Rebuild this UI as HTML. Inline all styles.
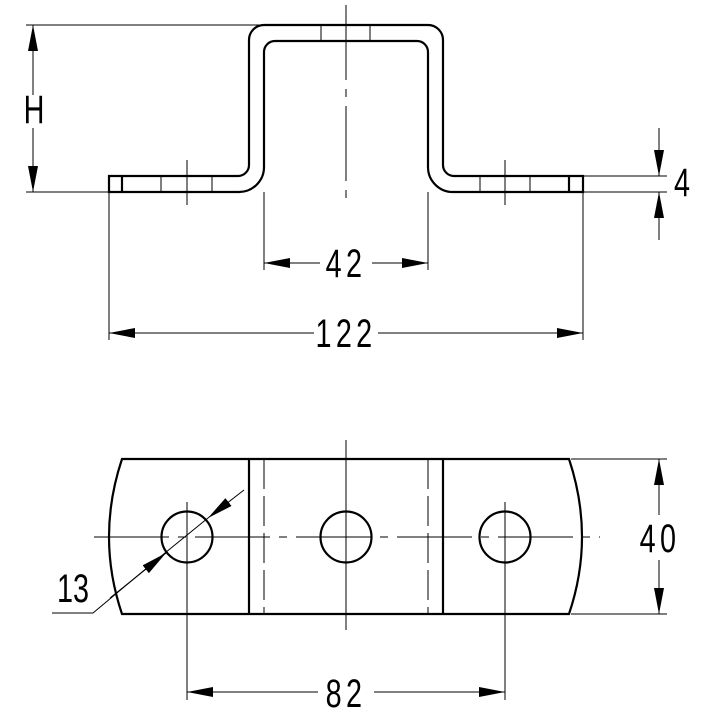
<!DOCTYPE html>
<html><head><meta charset="utf-8"><style>html,body{margin:0;padding:0;background:#fff}svg{display:block}</style></head>
<body>
<svg width="714" height="714" viewBox="0 0 714 714" xmlns="http://www.w3.org/2000/svg">
<defs>
<marker id="a" viewBox="0 0 26 10" refX="26" refY="5" markerWidth="26" markerHeight="10" markerUnits="userSpaceOnUse" orient="auto"><path d="M0,0L26,5L0,10z" fill="#000"/></marker>
</defs>
<g fill="none" stroke="#000">
<g stroke-width="2.2">
<path d="M109,176 H238 A11,11 0 0 0 249,165 V40 A15,15 0 0 1 264,25 H428 A15,15 0 0 1 443,40 V165 A11,11 0 0 0 454,176 H583 V192 H454 A25,25 0 0 1 428,167 V52 A11,11 0 0 0 417,41 H275 A11,11 0 0 0 264,52 V167 A25,25 0 0 1 238,192 H109 Z"/>
<line x1="122" y1="176" x2="122" y2="192"/>
<line x1="569" y1="176" x2="569" y2="192"/>
</g>
<g stroke-width="1">
<line x1="161" y1="176" x2="161" y2="192"/><line x1="212" y1="176" x2="212" y2="192"/>
<line x1="480" y1="176" x2="480" y2="192"/><line x1="530" y1="176" x2="530" y2="192"/>
<line x1="321" y1="25" x2="321" y2="41"/><line x1="370" y1="25" x2="370" y2="41"/>
<line x1="187" y1="160" x2="187" y2="205"/><line x1="505" y1="160" x2="505" y2="205"/>
<line x1="346" y1="5" x2="346" y2="205" stroke-dasharray="75,9,8,9"/>
<line x1="26" y1="25" x2="264" y2="25"/><line x1="26" y1="192" x2="109" y2="192"/>
<line x1="33" y1="95" x2="33" y2="25" marker-end="url(#a)"/><line x1="33" y1="128" x2="33" y2="192" marker-end="url(#a)"/>
<line x1="583" y1="176" x2="667" y2="176"/><line x1="583" y1="192" x2="667" y2="192"/>
<line x1="659" y1="128" x2="659" y2="176" marker-end="url(#a)"/><line x1="659" y1="240" x2="659" y2="192" marker-end="url(#a)"/>
<line x1="264" y1="192" x2="264" y2="270"/><line x1="428" y1="192" x2="428" y2="270"/>
<line x1="320" y1="263" x2="264" y2="263" marker-end="url(#a)"/><line x1="372" y1="263" x2="428" y2="263" marker-end="url(#a)"/>
<line x1="109" y1="192" x2="109" y2="340"/><line x1="583" y1="192" x2="583" y2="340"/>
<line x1="314" y1="333" x2="109" y2="333" marker-end="url(#a)"/><line x1="378" y1="333" x2="583" y2="333" marker-end="url(#a)"/>
</g>
<g stroke-width="2.2">
<path d="M122,459 H569 Q595,537 569,614 H122 Q96,537 122,459 Z"/>
<line x1="249" y1="459" x2="249" y2="614"/><line x1="443" y1="459" x2="443" y2="614"/>
<circle cx="187" cy="537" r="25.5"/><circle cx="346" cy="537" r="25.5"/><circle cx="505" cy="537" r="25.5"/>
</g>
<g stroke-width="1">
<line x1="264" y1="459" x2="264" y2="614" stroke-dasharray="30,7"/>
<line x1="428" y1="459" x2="428" y2="614" stroke-dasharray="30,7"/>
<line x1="94" y1="537" x2="600" y2="537" stroke-dasharray="75,9,8,9"/>
<line x1="346" y1="440" x2="346" y2="630"/>
<line x1="187" y1="502" x2="187" y2="700"/>
<line x1="505" y1="502" x2="505" y2="700"/>
<polyline points="52,613 93,613 160,557"/>
<line x1="110" y1="598" x2="166" y2="553" marker-end="url(#a)"/>
<line x1="160" y1="557" x2="208" y2="518"/>
<line x1="244" y1="490" x2="208" y2="518" marker-end="url(#a)"/>
<line x1="571" y1="459" x2="667" y2="459"/><line x1="571" y1="614" x2="667" y2="614"/>
<line x1="659" y1="515" x2="659" y2="459" marker-end="url(#a)"/><line x1="659" y1="560" x2="659" y2="614" marker-end="url(#a)"/>
<line x1="318" y1="692" x2="187" y2="692" marker-end="url(#a)"/><line x1="374" y1="692" x2="505" y2="692" marker-end="url(#a)"/>
</g>
</g>
<g font-family="Liberation Sans, sans-serif" font-size="40" fill="#000" text-anchor="middle">
<text x="34" y="123" transform="translate(34 0) scale(0.72 1) translate(-34 0)">H</text>
<text x="682" y="196" transform="translate(682 0) scale(0.72 1) translate(-682 0)">4</text>
<text x="346" y="277" transform="translate(346 0) scale(0.72 1) translate(-346 0)" letter-spacing="6">42</text>
<text x="346" y="347" transform="translate(346 0) scale(0.72 1) translate(-346 0)" letter-spacing="6">122</text>
<text x="660" y="552" transform="translate(660 0) scale(0.72 1) translate(-660 0)" letter-spacing="6">40</text>
<text x="73" y="602" transform="translate(73 0) scale(0.72 1) translate(-73 0)">13</text>
<text x="346" y="707" transform="translate(346 0) scale(0.72 1) translate(-346 0)" letter-spacing="6">82</text>
</g>
</svg>
</body></html>
